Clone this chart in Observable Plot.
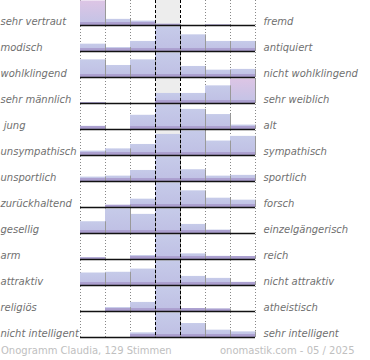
<!DOCTYPE html>
<html>
<head>
<meta charset="utf-8">
<script src="https://cdn.jsdelivr.net/npm/d3@7"></script>
<script src="https://cdn.jsdelivr.net/npm/@observablehq/plot@0.6"></script>
<style>
  body { margin: 0; background: #fff; font-family: "DejaVu Sans", sans-serif; }
  #wrap { position: relative; width: 370px; height: 360px; }
  .foot { position: absolute; top: 345px; font-size: 10px; line-height: 12px; color: #c0c0c0; white-space: nowrap; }
</style>
</head>
<body>
<div id="wrap"></div>
<script>
const leftLabels = ["sehr vertraut", "modisch", "wohlklingend", "sehr männlich", "\u00a0jung",
  "unsympathisch", "unsportlich", "zurückhaltend", "gesellig", "arm", "attraktiv", "religiös", "nicht intelligent"];
const rightLabels = ["fremd", "antiquiert", "nicht wohlklingend", "sehr weiblich", "alt",
  "sympathisch", "sportlich", "forsch", "einzelgängerisch", "reich", "nicht attraktiv", "atheistisch", "sehr intelligent"];
// relative bar heights per row (7 bins, row maximum = 100)
const heights = [
  [100, 25, 18, 5, 0, 2, 0],
  [30, 16, 41, 100, 68, 41, 41],
  [72, 49, 72, 100, 45, 30, 33],
  [3, 0, 0, 41, 41, 72, 100],
  [13, 0, 58, 100, 82, 61, 18],
  [18, 27, 45, 86, 100, 59, 78],
  [18, 22, 45, 100, 48, 22, 25],
  [0, 9, 34, 100, 68, 38, 30],
  [48, 100, 78, 100, 37, 14, 0],
  [7, 0, 16, 100, 23, 13, 12],
  [51, 54, 67, 100, 37, 29, 13],
  [0, 16, 37, 100, 12, 10, 0],
  [0, 0, 19, 100, 57, 30, 23]
];
const footerLeft = "Onogramm Claudia, 129 Stimmen";
const footerRight = "onomastik.com - 05 / 2025";

const rows = [];
leftLabels.forEach((l, i) => {
  heights[i].forEach((v, b) => rows.push({row: l, left: l, right: rightLabels[i], bin: b + 1, v}));
});
const isPink = d => (d.bin === 1 || d.bin === 7) && d.v >= 90;

const chart = Plot.plot({
  width: 370, height: 338,
  marginLeft: 80, marginRight: 115, marginTop: 0, marginBottom: 0,
  x: {domain: [0, 7], axis: null},
  y: {domain: [0, 102], axis: null, insetBottom: 1},
  fy: {domain: leftLabels, axis: null, padding: 0},
  facet: {data: rows, y: "row"},
  style: {fontFamily: "DejaVu Sans", fontSize: "10px", background: "white", overflow: "visible"},
  marks: [
    Plot.rect([{a: 3, b: 4}], {x1: "a", x2: "b", fill: "#ededed"}),
    Plot.ruleX([0, 1, 2, 5, 6, 7], {stroke: "#888", strokeDasharray: "1,2", strokeWidth: 1}),
    Plot.rect(rows, {filter: d => d.v > 0 && !isPink(d), x1: d => d.bin - 1, x2: d => d.bin, y1: 0, y2: "v", fill: "url(#gBlue)"}),
    Plot.rect(rows, {filter: d => d.v > 0 && isPink(d), x1: d => d.bin - 1, x2: d => d.bin, y1: 0, y2: "v", fill: "url(#gPink)"}),
    Plot.rect(rows, {filter: d => d.v > 0, x1: d => d.bin - 1, x2: d => d.bin, y1: 0, y2: d => Math.min(d.v, 12), fill: "#ab9fcf"}),
    Plot.ruleX(rows, {filter: d => d.v > 0, x: "bin", y1: 0, y2: "v", stroke: "#999", strokeWidth: 1}),
    Plot.ruleY([0], {stroke: "#111", strokeWidth: 1.5}),
    Plot.ruleX([3, 4], {stroke: "#000", strokeDasharray: "3,2", strokeWidth: 1}),
    Plot.text(rows, {filter: d => d.bin === 1, text: "left", frameAnchor: "left", dx: -80, dy: 8,
      textAnchor: "start", fontStyle: "italic", fill: "#707070", fontSize: 10}),
    Plot.text(rows, {filter: d => d.bin === 1, text: "right", frameAnchor: "right", dx: 8, dy: 8,
      textAnchor: "start", fontStyle: "italic", fill: "#707070", fontSize: 10})
  ]
});

const svg = chart.tagName.toLowerCase() === "svg" ? chart : chart.querySelector("svg");
const defs = d3.create("svg:defs");
const g1 = defs.append("linearGradient").attr("id", "gBlue").attr("x1", 0).attr("y1", 0).attr("x2", 0).attr("y2", 1);
g1.append("stop").attr("offset", "0%").attr("stop-color", "#c6cbe9");
g1.append("stop").attr("offset", "100%").attr("stop-color", "#bfbfe4");
const g2 = defs.append("linearGradient").attr("id", "gPink").attr("x1", 0).attr("y1", 0).attr("x2", 0).attr("y2", 1);
g2.append("stop").attr("offset", "0%").attr("stop-color", "#ddc5e5");
g2.append("stop").attr("offset", "100%").attr("stop-color", "#c2c3e6");
svg.insertBefore(defs.node(), svg.firstChild);

const wrap = document.getElementById("wrap");
wrap.appendChild(chart);
const fl = document.createElement("div");
fl.className = "foot"; fl.style.left = "1px"; fl.textContent = footerLeft;
const fr = document.createElement("div");
fr.className = "foot"; fr.style.left = "220px"; fr.textContent = footerRight;
wrap.appendChild(fl); wrap.appendChild(fr);
</script>
</body>
</html>
